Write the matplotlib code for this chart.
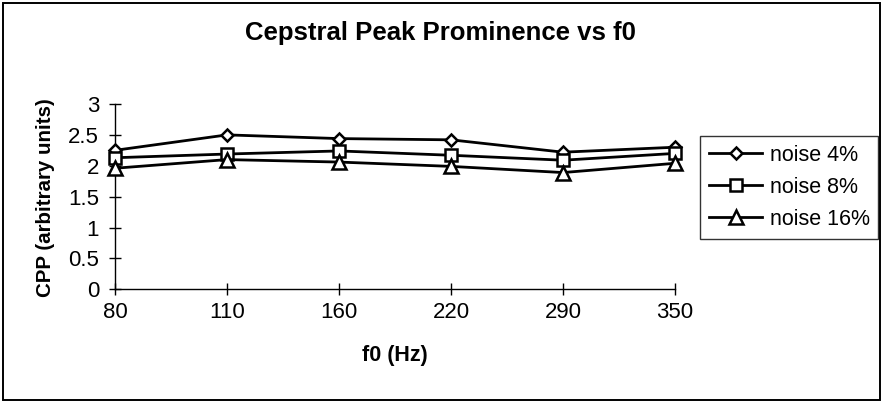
import matplotlib
matplotlib.use("Agg")
import matplotlib.pyplot as plt
from matplotlib.patches import Rectangle

plt.rcParams['font.family'] = ['Liberation Sans', 'DejaVu Sans']

# Fundamental frequency categories and CPP values per noise level
f0_labels = ["80", "110", "160", "220", "290", "350"]
noise_4 = [2.25, 2.50, 2.44, 2.42, 2.22, 2.30]
noise_8 = [2.13, 2.19, 2.24, 2.17, 2.09, 2.20]
noise_16 = [1.96, 2.10, 2.06, 1.99, 1.89, 2.04]
series_names = ["noise 4%", "noise 8%", "noise 16%"]
y_ticks = [0, 0.5, 1, 1.5, 2, 2.5, 3]

W, H = 881, 401
fig = plt.figure(figsize=(W / 100, H / 100), dpi=100)

# Outer chart frame
fig.patches.append(Rectangle((3 / W, 1.5 / H), 876.5 / W, 396.5 / H,
                             transform=fig.transFigure, fill=False,
                             edgecolor="black", linewidth=1.4))

ax_left, ax_right = 115, 675
ax_top, ax_bottom = 104, 289.3
ax = fig.add_axes([ax_left / W, (H - ax_bottom) / H,
                   (ax_right - ax_left) / W, (ax_bottom - ax_top) / H])

x = list(range(len(f0_labels)))
style = dict(color="black", linewidth=2.0, markerfacecolor="white",
             markeredgecolor="black", markeredgewidth=1.8)
h1, = ax.plot(x, noise_4, marker="D", markersize=6.2, **style)
h2, = ax.plot(x, noise_8, marker="s", markersize=8.8, **style)
h3, = ax.plot(x, noise_16, marker="^", markersize=10, **style)
for z, h in enumerate((h1, h2, h3)):
    h.set_clip_on(False)
    h.set_zorder(3 + z)

ax.set_xlim(0, len(f0_labels) - 1)
ax.set_ylim(0, 3)
ax.set_xticks(x)
ax.set_xticklabels(f0_labels)
ax.set_yticks(y_ticks)
ax.set_yticklabels([f"{v:g}" for v in y_ticks])

for s in ("top", "right"):
    ax.spines[s].set_visible(False)
for s in ("left", "bottom"):
    ax.spines[s].set_linewidth(1.0)
ax.tick_params(axis="both", direction="inout", length=9, width=1.0,
               labelsize=16, colors="black")
ax.tick_params(axis="x", pad=5)
ax.tick_params(axis="y", pad=7)

fig.text(440 / W, 1 - 33 / H, "Cepstral Peak Prominence vs f0",
         ha="center", va="center", fontsize=18.5, fontweight="bold")
fig.text(395 / W, 1 - 356 / H, "f0 (Hz)",
         ha="center", va="center", fontsize=15.5, fontweight="bold")
fig.text(46 / W, 1 - 198 / H, "CPP (arbitrary units)", rotation=90,
         ha="center", va="center", fontsize=14.8, fontweight="bold")

leg = fig.legend([h1, h2, h3], series_names, loc="upper left",
                 bbox_to_anchor=(700 / W, 1 - 136 / H), fontsize=15.5,
                 frameon=True, fancybox=False, edgecolor="black",
                 handlelength=2.5, handletextpad=0.33, labelspacing=0.52,
                 borderpad=0.4, borderaxespad=0.0)
leg.get_frame().set_linewidth(1.0)

fig.savefig("out.png", dpi=100)
